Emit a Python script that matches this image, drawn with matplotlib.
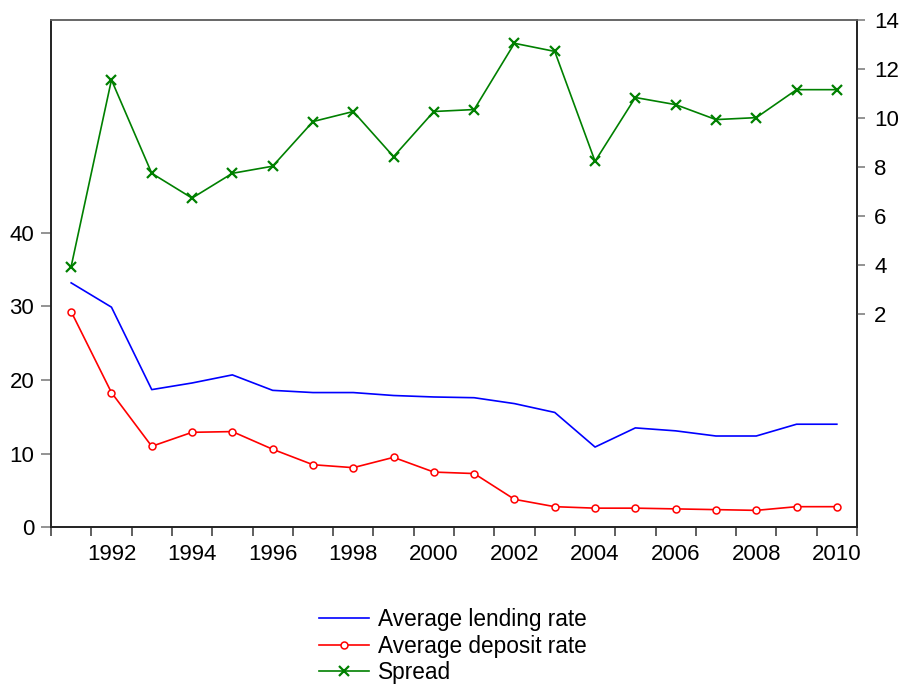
import numpy as np
import matplotlib
matplotlib.use("Agg")
import matplotlib.pyplot as plt

years = list(range(1991, 2011))
lending = [33.2, 29.9, 18.7, 19.6, 20.7, 18.6, 18.3, 18.3, 17.9, 17.7,
           17.6, 16.8, 15.6, 10.9, 13.5, 13.1, 12.4, 12.4, 14.0, 14.0]
deposit = [29.3, 18.3, 11.0, 12.9, 13.0, 10.6, 8.5, 8.1, 9.5, 7.5,
           7.3, 3.8, 2.8, 2.6, 2.6, 2.5, 2.4, 2.3, 2.8, 2.8]
spread = [3.95, 11.56, 7.75, 6.74, 7.75, 8.04, 9.86, 10.27, 8.43, 10.27,
          10.35, 13.05, 12.72, 8.24, 10.84, 10.55, 9.94, 10.02, 11.16, 11.16]

left_ticks = [0, 10, 20, 30, 40]
right_ticks = [2, 4, 6, 8, 10, 12, 14]
year_labels = list(range(1992, 2011, 2))

plt.rcParams['font.family'] = ['Liberation Sans', 'DejaVu Sans']
fs = 16
fs_leg = 16.3

fig = plt.figure(figsize=(9, 6.85), dpi=100)
ax = fig.add_axes([51/900, 1 - 527.3/685, (857-51)/900, (527.3-20)/685])
ax2 = ax.twinx()

l1, = ax.plot(years, lending, color='#0000FF', lw=1.2, label='Average lending rate')
l2, = ax.plot(years, deposit, color='#FF0000', lw=1.2, marker='o', ms=5,
              mfc='white', mec='#FF0000', mew=1.1, label='Average deposit rate')
l3, = ax2.plot(years, spread, color='#008000', lw=1.2, marker='x', ms=7,
               mew=1.6, label='Spread')

ax.set_xlim(1990.5, 2010.5)
ax.set_ylim(0, 68.9)
ax2.set_ylim(-6.68, 14.0)

ax.set_yticks(left_ticks)
ax2.set_yticks(right_ticks)

# year boundaries as ticks, labels centred on the year
ax.set_xticks(np.arange(1990.5, 2011, 1))
ax.set_xticklabels([])
ax.set_xticks(year_labels, minor=True)
ax.set_xticklabels([str(y) for y in year_labels], minor=True)
ax.tick_params(axis='x', which='major', direction='out', length=6.5, width=1.2, color='#444444')
ax.tick_params(axis='x', which='minor', length=0, pad=12, labelsize=fs)
ax.tick_params(axis='y', direction='out', length=7, width=1.2, color='#808080', pad=5, labelsize=fs)
ax2.tick_params(axis='y', direction='out', length=5.5, width=1.2, color='#808080', pad=7, labelsize=fs)

for a in (ax, ax2):
    for s in a.spines.values():
        s.set_linewidth(1.2)
        s.set_color('#222222')
    a.spines['top'].set_color('#666666')

fig.legend(handles=[l1, l2, l3], loc='upper left', bbox_to_anchor=(319/900, 1 - 608/685),
           frameon=False, fontsize=fs_leg, handlelength=2.2, handletextpad=0.4,
           labelspacing=0.16, borderpad=0, borderaxespad=0)

fig.savefig('out.png', dpi=100)
